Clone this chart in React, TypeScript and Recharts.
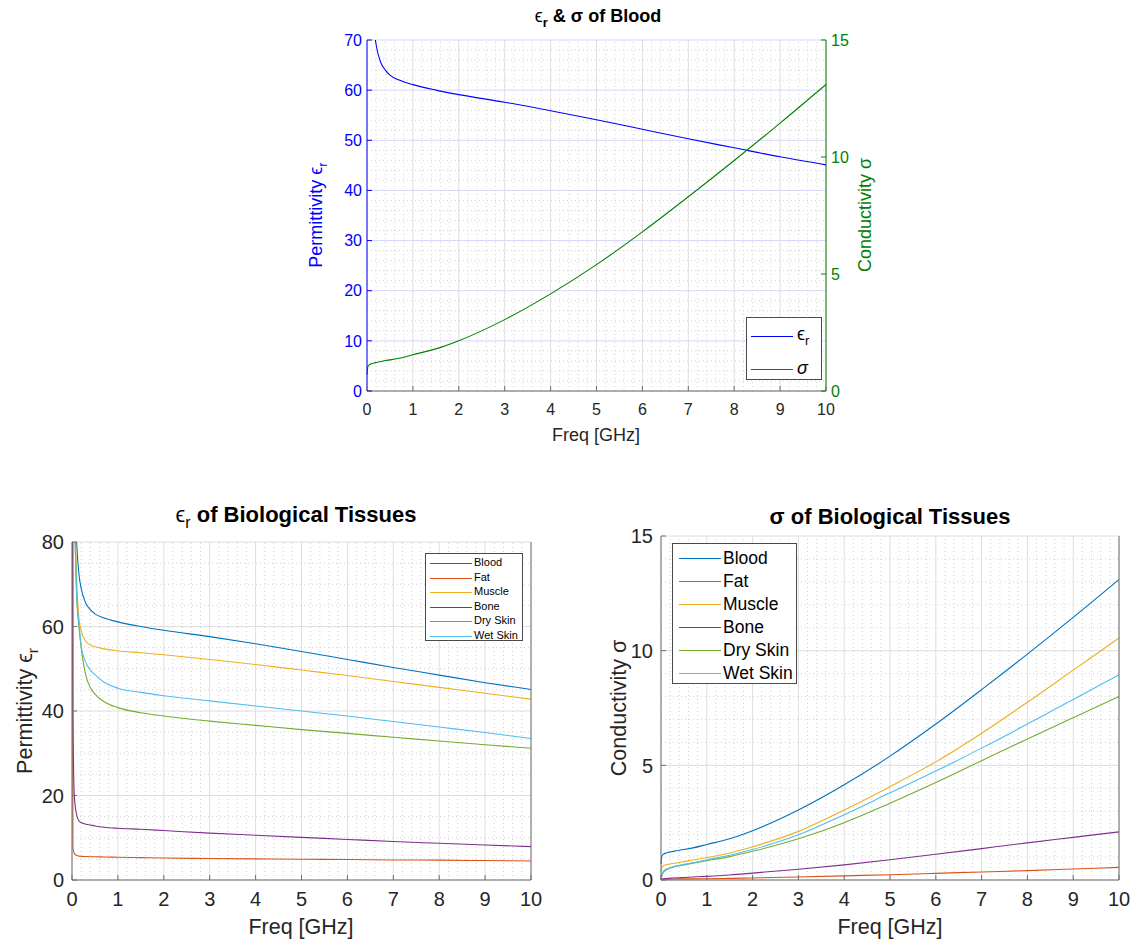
import React from "react";
import { LineChart, Line, XAxis, YAxis, CartesianGrid, ReferenceLine } from "recharts";

// frequency samples (GHz), denser near 0 where the curves fall steeply
const freqGHz = [0.001, 0.02, 0.05, 0.1, 0.15, 0.2, 0.3, 0.4, 0.5, 0.7, 1, 1.5, 2, 3, 4, 5, 6, 7, 8, 9, 10];

// relative permittivity
const epsBlood = [150, 120, 95, 80, 72.5, 69, 65.5, 64, 63, 62, 61.1, 60, 59.1, 57.6, 55.9, 54.1, 52.2, 50.3, 48.5, 46.7, 45.1];
const epsFat = [200, 8, 6.3, 5.8, 5.65, 5.6, 5.55, 5.52, 5.5, 5.45, 5.4, 5.3, 5.2, 5.1, 5.0, 4.9, 4.85, 4.75, 4.7, 4.6, 4.5];
const epsMuscle = [150, 120, 95, 72, 62, 59, 56.5, 55.6, 55.2, 54.7, 54.2, 53.8, 53.3, 52.2, 51.0, 49.7, 48.4, 47.0, 45.6, 44.2, 42.8];
const epsBone = [500, 40, 20, 15.5, 14.0, 13.6, 13.2, 13.0, 12.8, 12.5, 12.25, 12.0, 11.7, 11.1, 10.6, 10.1, 9.6, 9.1, 8.7, 8.3, 7.9];
const epsDrySkin = [150, 120, 92, 68, 60, 55, 48.5, 45.5, 44, 42.2, 40.8, 39.6, 38.8, 37.6, 36.6, 35.6, 34.7, 33.8, 32.9, 32.0, 31.2];
const epsWetSkin = [150, 120, 92, 68, 61, 55.5, 51.5, 49.7, 48.6, 46.8, 45.4, 44.4, 43.6, 42.4, 41.2, 40.0, 38.8, 37.5, 36.2, 34.9, 33.5];

// conductivity (S/m)
const sigBlood = [0.7, 1.05, 1.12, 1.17, 1.2, 1.22, 1.26, 1.3, 1.33, 1.4, 1.55, 1.8, 2.15, 3.05, 4.15, 5.4, 6.8, 8.3, 9.85, 11.45, 13.1];
const sigFat = [0.02, 0.03, 0.035, 0.04, 0.04, 0.04, 0.045, 0.05, 0.05, 0.05, 0.055, 0.07, 0.09, 0.13, 0.18, 0.23, 0.29, 0.35, 0.41, 0.48, 0.55];
const sigMuscle = [0.35, 0.55, 0.62, 0.66, 0.68, 0.7, 0.73, 0.76, 0.8, 0.87, 0.98, 1.18, 1.45, 2.12, 3.05, 4.07, 5.15, 6.4, 7.75, 9.15, 10.55];
const sigBone = [0.02, 0.04, 0.05, 0.06, 0.07, 0.08, 0.09, 0.1, 0.11, 0.13, 0.16, 0.22, 0.3, 0.47, 0.66, 0.88, 1.12, 1.37, 1.62, 1.86, 2.1];
const sigDrySkin = [0.0, 0.2, 0.33, 0.42, 0.48, 0.52, 0.58, 0.62, 0.66, 0.73, 0.84, 1.02, 1.25, 1.8, 2.5, 3.35, 4.25, 5.2, 6.15, 7.08, 8.0];
const sigWetSkin = [0.02, 0.25, 0.38, 0.46, 0.5, 0.54, 0.6, 0.64, 0.68, 0.75, 0.88, 1.08, 1.33, 1.97, 2.85, 3.8, 4.75, 5.75, 6.8, 7.87, 8.95];

const tissues = ["Blood", "Fat", "Muscle", "Bone", "Dry Skin", "Wet Skin"];
const tissueColors = ["#0072BD", "#D95319", "#EDB120", "#7E2F8E", "#77AC30", "#4DBEEE"];

const xTicks = [0, 1, 2, 3, 4, 5, 6, 7, 8, 9, 10];
const epsBloodTicks = [0, 10, 20, 30, 40, 50, 60, 70];
const sigBloodTicks = [0, 5, 10, 15];
const epsTicks = [0, 20, 40, 60, 80];
const sigTicks = [0, 5, 10, 15];

const epsByTissue = [epsBlood, epsFat, epsMuscle, epsBone, epsDrySkin, epsWetSkin];
const sigByTissue = [sigBlood, sigFat, sigMuscle, sigBone, sigDrySkin, sigWetSkin];

const rows = freqGHz.map((f, i) => {
  const r: Record<string, number> = { f };
  epsByTissue.forEach((s, k) => (r[`eps${k}`] = s[i]));
  sigByTissue.forEach((s, k) => (r[`sig${k}`] = s[i]));
  return r;
});

const FONT = '"Liberation Sans", Arial, Helvetica, sans-serif';
const AX = "#262626";
const BOX = "#6e6e6e";
const GRID = "#dedede";
const MINOR = "#d2d2d2";
const DOTS = "1 3";

const range = (a: number, b: number, step: number) => {
  const out: number[] = [];
  for (let i = 0; ; i++) {
    const v = +(a + i * step).toFixed(4);
    if (v > b + 1e-9) break;
    out.push(v);
  }
  return out;
};
const notOn = (major: number) => (v: number) => Math.abs(v / major - Math.round(v / major)) > 1e-6;
const minorX = range(0, 10, 0.2).filter(notOn(1));
const minorEpsBlood = range(0, 70, 2).filter(notOn(10));
const minorEps = range(0, 80, 5).filter(notOn(20));
const minorSig = range(0, 15, 1).filter(notOn(5));

type Side = "bottom" | "top" | "left" | "right";
type TickOpts = { margin: number; len: number; size: number; color: string; tickColor?: string; label: boolean };

// tick label plus an inward tick mark (matlab style)
function makeTick(side: Side, o: TickOpts) {
  return (props: any) => {
    const { x, y, payload } = props;
    const tc = o.tickColor ?? o.color;
    const txt = (tx: number, ty: number, anchor: string, dy: string) =>
      o.label ? (
        <text x={tx} y={ty} dy={dy} textAnchor={anchor} fontSize={o.size} fill={o.color} fontFamily={FONT}>
          {payload.value}
        </text>
      ) : null;
    if (side === "bottom") {
      const ay = y - o.margin;
      return (
        <g>
          <line x1={x} y1={ay} x2={x} y2={ay - o.len} stroke={tc} />
          {txt(x, y, "middle", "0.72em")}
        </g>
      );
    }
    if (side === "top") {
      const ay = y + o.margin;
      return <line x1={x} y1={ay} x2={x} y2={ay + o.len} stroke={tc} />;
    }
    if (side === "left") {
      const ax = x + o.margin;
      return (
        <g>
          <line x1={ax} y1={y} x2={ax + o.len} y2={y} stroke={tc} />
          {txt(x, y, "end", "0.36em")}
        </g>
      );
    }
    const ax = x - o.margin;
    return (
      <g>
        <line x1={ax} y1={y} x2={ax - o.len} y2={y} stroke={tc} />
        {txt(x, y, "start", "0.36em")}
      </g>
    );
  };
}

function Label({ x, y, size, color = AX, rotate = false, bold = false, children }: any) {
  return (
    <div
      style={{
        position: "absolute",
        left: x,
        top: y,
        transform: `translate(-50%, -50%)${rotate ? " rotate(-90deg)" : ""}`,
        whiteSpace: "nowrap",
        fontSize: size,
        lineHeight: 1.2,
        color,
        fontFamily: FONT,
        fontWeight: bold ? "bold" : "normal",
      }}
    >
      {children}
    </div>
  );
}

const Sub = ({ children, bold = false }: any) => (
  <span style={{ fontSize: "0.72em", verticalAlign: "-0.4em", fontWeight: bold ? "bold" : "normal" }}>{children}</span>
);
const Eps = () => <span style={{ fontWeight: "normal" }}>ϵ</span>;

function LegendBox({ left, top, width, height, size, rowY, lineX, textX, items }: any) {
  return (
    <div
      style={{
        position: "absolute",
        left,
        top,
        width,
        height,
        boxSizing: "border-box",
        border: "1px solid #4a4a4a",
        background: "#fff",
        fontFamily: FONT,
        fontSize: size,
        color: "#000",
      }}
    >
      {items.map((it: any, i: number) => (
        <React.Fragment key={i}>
          <div
            style={{
              position: "absolute",
              left: lineX[0],
              width: lineX[1] - lineX[0],
              top: rowY[i],
              borderTop: `1px solid ${it.color}`,
            }}
          />
          <div
            style={{
              position: "absolute",
              left: textX,
              top: rowY[i],
              whiteSpace: "nowrap",
              lineHeight: 1.2,
              transform: "translateY(-50%)",
            }}
          >
            {it.label}
          </div>
        </React.Fragment>
      ))}
    </div>
  );
}

function BloodChart() {
  const tick = { len: 5, size: 16 };
  return (
    <div style={{ position: "absolute", left: 247, top: 20 }}>
      <LineChart width={720} height={410} data={rows} margin={{ top: 20, right: 0, bottom: 0, left: 0 }}>
        {minorX.map((v) => (
          <ReferenceLine key={"mx" + v} x={v} stroke={MINOR} strokeDasharray={DOTS} />
        ))}
        {minorEpsBlood.map((v) => (
          <ReferenceLine key={"my" + v} y={v} stroke="#cfcff6" strokeDasharray={DOTS} />
        ))}
        <CartesianGrid vertical={false} stroke="#d6d6fb" />
        <CartesianGrid horizontal={false} stroke={GRID} />
        <XAxis
          dataKey="f"
          type="number"
          domain={[0, 10]}
          ticks={xTicks}
          interval={0}
          height={39}
          tickSize={0}
          tickMargin={12}
          tickLine={false}
          axisLine={{ stroke: BOX }}
          tick={makeTick("bottom", { ...tick, margin: 12, color: AX, tickColor: BOX, label: true })}
        />
        <XAxis
          xAxisId="top"
          orientation="top"
          dataKey="f"
          type="number"
          domain={[0, 10]}
          ticks={xTicks}
          interval={0}
          height={0}
          tickSize={0}
          tickMargin={0}
          tickLine={false}
          axisLine={{ stroke: BOX }}
          tick={makeTick("top", { ...tick, margin: 0, color: BOX, label: false })}
        />
        <YAxis
          type="number"
          domain={[0, 70]}
          ticks={epsBloodTicks}
          interval={0}
          width={120}
          allowDataOverflow
          tickSize={0}
          tickMargin={5}
          tickLine={false}
          axisLine={{ stroke: "#0000ff" }}
          tick={makeTick("left", { ...tick, margin: 5, color: "#0000ff", label: true })}
        />
        <YAxis
          yAxisId="sig"
          orientation="right"
          type="number"
          domain={[0, 15]}
          ticks={sigBloodTicks}
          interval={0}
          width={141}
          tickSize={0}
          tickMargin={5}
          tickLine={false}
          axisLine={{ stroke: "#008000" }}
          tick={makeTick("right", { ...tick, margin: 5, color: "#008000", label: true })}
        />
        <Line dataKey="eps0" type="monotone" stroke="#0000ff" strokeWidth={1.1} dot={false} isAnimationActive={false} />
        <Line dataKey="sig0" yAxisId="sig" type="monotone" stroke="#008000" strokeWidth={1.1} dot={false} isAnimationActive={false} />
      </LineChart>
    </div>
  );
}

function TissueChart({ left, top, width, height, marginTop, leftW, rightW, prefix, domain, ticks, minorY }: any) {
  const tick = { len: 5, size: 20 };
  return (
    <div style={{ position: "absolute", left, top }}>
      <LineChart width={width} height={height} data={rows} margin={{ top: marginTop, right: 0, bottom: 0, left: 0 }}>
        {minorX.map((v) => (
          <ReferenceLine key={"mx" + v} x={v} stroke={MINOR} strokeDasharray={DOTS} />
        ))}
        {minorY.map((v: number) => (
          <ReferenceLine key={"my" + v} y={v} stroke={MINOR} strokeDasharray={DOTS} />
        ))}
        <CartesianGrid stroke={GRID} />
        <XAxis
          dataKey="f"
          type="number"
          domain={[0, 10]}
          ticks={xTicks}
          interval={0}
          height={30}
          tickSize={0}
          tickMargin={12}
          tickLine={false}
          axisLine={{ stroke: BOX }}
          tick={makeTick("bottom", { ...tick, margin: 12, color: AX, tickColor: BOX, label: true })}
        />
        <XAxis
          xAxisId="top"
          orientation="top"
          dataKey="f"
          type="number"
          domain={[0, 10]}
          ticks={xTicks}
          interval={0}
          height={0}
          tickSize={0}
          tickMargin={0}
          tickLine={false}
          axisLine={{ stroke: BOX }}
          tick={makeTick("top", { ...tick, margin: 0, color: BOX, label: false })}
        />
        <YAxis
          type="number"
          domain={domain}
          ticks={ticks}
          interval={0}
          width={leftW}
          allowDataOverflow
          tickSize={0}
          tickMargin={8}
          tickLine={false}
          axisLine={{ stroke: BOX }}
          tick={makeTick("left", { ...tick, margin: 8, color: AX, tickColor: BOX, label: true })}
        />
        <YAxis
          yAxisId="r"
          orientation="right"
          type="number"
          domain={domain}
          ticks={ticks}
          interval={0}
          width={rightW}
          tickSize={0}
          tickMargin={0}
          tickLine={false}
          axisLine={{ stroke: BOX }}
          tick={makeTick("right", { ...tick, margin: 0, color: BOX, label: false })}
        />
        {tissues.map((name, k) => (
          <Line
            key={name}
            name={name}
            dataKey={`${prefix}${k}`}
            type="monotone"
            stroke={tissueColors[k]}
            strokeWidth={1.1}
            dot={false}
            isAnimationActive={false}
          />
        ))}
      </LineChart>
    </div>
  );
}

export default function App() {
  const tissueItems = tissues.map((t, k) => ({ label: t, color: tissueColors[k] }));
  return (
    <div style={{ position: "absolute", left: 0, top: 0, width: 1135, height: 942, overflow: "hidden", background: "#fff", fontFamily: FONT }}>
      <BloodChart />
      <Label x={598} y={18} size={18} color="#000" bold>
        <Eps />
        <Sub bold>r</Sub> &amp; σ of Blood
      </Label>
      <Label x={596} y={436} size={18}>Freq [GHz]</Label>
      <Label x={318} y={215} size={18} color="#0000ff" rotate>
        Permittivity ϵ<Sub>r</Sub>
      </Label>
      <Label x={866} y={215} size={18} color="#008000" rotate>
        Conductivity σ
      </Label>
      <LegendBox
        left={746}
        top={317}
        width={76}
        height={63}
        size={18}
        rowY={[18, 51]}
        lineX={[4, 46]}
        textX={50}
        items={[
          { label: <span>ϵ<Sub>r</Sub></span>, color: "#0000ff" },
          { label: <span style={{ fontStyle: "italic" }}>σ</span>, color: "#008000" },
        ]}
      />

      <TissueChart
        left={0}
        top={520}
        width={560}
        height={390}
        marginTop={22}
        leftW={72}
        rightW={29}
        prefix="eps"
        domain={[0, 80]}
        ticks={epsTicks}
        minorY={minorEps}
      />
      <Label x={296} y={517} size={22} color="#000" bold>
        <Eps />
        <Sub>r</Sub> of Biological Tissues
      </Label>
      <Label x={301} y={928} size={21.5}>Freq [GHz]</Label>
      <Label x={28} y={711} size={21.5} rotate>
        Permittivity ϵ<Sub>r</Sub>
      </Label>
      <LegendBox
        left={425}
        top={553}
        width={98}
        height={88}
        size={11}
        rowY={[9, 23.5, 38, 52.5, 67, 81.5]}
        lineX={[4, 46]}
        textX={48}
        items={tissueItems}
      />

      <TissueChart
        left={580}
        top={515}
        width={555}
        height={395}
        marginTop={21}
        leftW={81}
        rightW={16}
        prefix="sig"
        domain={[0, 15]}
        ticks={sigTicks}
        minorY={minorSig}
      />
      <Label x={890} y={517} size={22} color="#000" bold>
        σ of Biological Tissues
      </Label>
      <Label x={890} y={928} size={21.5}>Freq [GHz]</Label>
      <Label x={620} y={708} size={21.5} rotate>
        Conductivity σ
      </Label>
      <LegendBox
        left={672}
        top={543}
        width={125}
        height={141}
        size={17.5}
        rowY={[14, 37, 60, 83, 106, 129]}
        lineX={[6, 48]}
        textX={50}
        items={tissueItems}
      />
    </div>
  );
}
